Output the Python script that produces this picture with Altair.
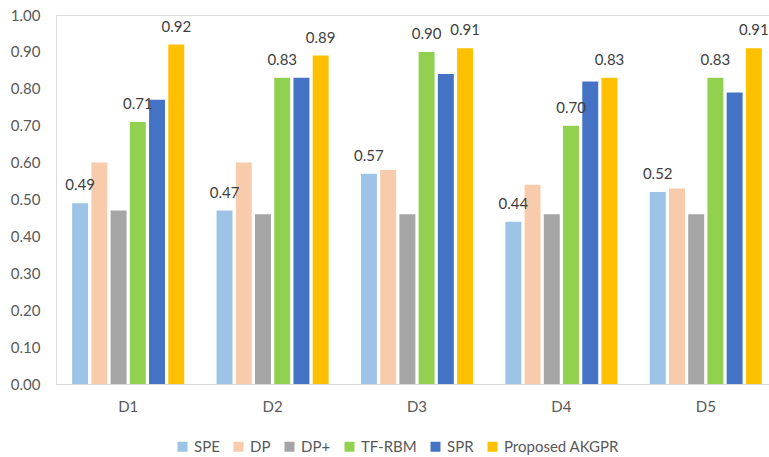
import altair as alt
import pandas as pd

datasets = ["D1", "D2", "D3", "D4", "D5"]
series = ["SPE", "DP", "DP+", "TF-RBM", "SPR", "Proposed AKGPR"]
colors = ["#9DC3E6", "#F8CBAD", "#A5A5A5", "#92D050", "#4472C4", "#FFC000"]
spe = [0.49, 0.47, 0.57, 0.44, 0.52]
dp = [0.60, 0.60, 0.58, 0.54, 0.53]
dpp = [0.47, 0.46, 0.46, 0.46, 0.46]
tfrbm = [0.71, 0.83, 0.90, 0.70, 0.83]
spr = [0.77, 0.83, 0.84, 0.82, 0.79]
akgpr = [0.92, 0.89, 0.91, 0.83, 0.91]
labelled = ["SPE", "TF-RBM", "Proposed AKGPR"]

vals = [spe, dp, dpp, tfrbm, spr, akgpr]
rows = []
for s, v in zip(series, vals):
    for d, x in zip(datasets, v):
        rows.append({"dataset": d, "series": s, "value": x})
df = pd.DataFrame(rows)

FONT = "Lato"

x_enc = alt.X("dataset:N", sort=datasets, title=None,
              scale=alt.Scale(range=[0, 722], paddingInner=0, paddingOuter=0),
              axis=alt.Axis(labelAngle=0, ticks=False, labelPadding=15,
                            domainColor="#D9D9D9", labelColor="#595959",
                            labelFontSize=15, labelFont=FONT, grid=False))
xo_enc = alt.XOffset("series:N", sort=series,
                     scale=alt.Scale(paddingInner=0.17, paddingOuter=0.84))
y_enc = alt.Y("value:Q", title=None,
              scale=alt.Scale(domain=[0, 1]),
              axis=alt.Axis(values=[i / 10 for i in range(11)], format=".2f",
                            ticks=False, domain=False, grid=False,
                            labelPadding=16, labelColor="#595959",
                            labelFontSize=15, labelFont=FONT))

bars = alt.Chart(df).mark_bar().encode(
    x=x_enc,
    xOffset=xo_enc,
    y=y_enc,
    color=alt.Color("series:N", sort=series,
                    scale=alt.Scale(domain=series, range=colors),
                    legend=alt.Legend(title=None, orient="none", direction="horizontal",
                                      legendX=119, legendY=424,
                                      symbolType="square", symbolSize=100,
                                      symbolStrokeWidth=0,
                                      labelFontSize=15, labelFont=FONT,
                                      labelColor="#595959", columnPadding=11,
                                      labelOffset=4)),
)

labels = alt.Chart(df).transform_filter(
    alt.FieldOneOfPredicate(field="series", oneOf=labelled)
).mark_text(dy=-13, baseline="alphabetic", fontSize=15, font=FONT,
            color="#404040").encode(
    x=x_enc,
    xOffset=xo_enc,
    y=y_enc,
    text=alt.Text("value:Q", format=".2f"),
)

chart = (bars + labels).properties(
    width=713, height=369,
    autosize=alt.AutoSizeParams(type="none"),
    padding={"left": 56, "top": 15, "right": 0, "bottom": 73},
).configure_view(stroke=None).configure(background="white")

chart.save("out.html", embed_options={"renderer": "svg", "actions": False})
